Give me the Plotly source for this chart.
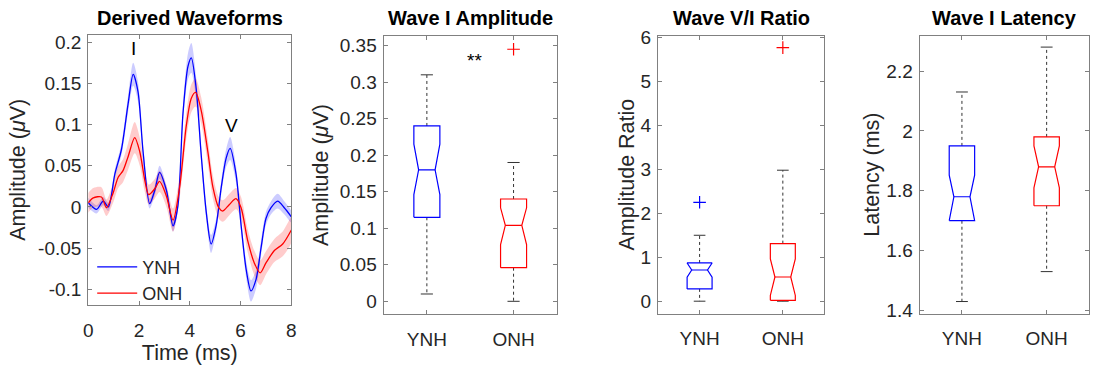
import plotly.graph_objects as go

# ---------------- data ----------------
groups = ["YNH", "ONH"]
group_colors = ["#0000ff", "#ff0000"]

# Derived waveforms (mean and SEM), time in ms
ynh_t = [0, 0.33, 0.59, 0.79, 1.05, 1.31, 1.57, 1.77, 1.96, 2.16, 2.42, 2.62, 2.81, 3.08, 3.34, 3.53,
         3.73, 3.93, 4.06, 4.25, 4.45, 4.65, 4.84, 5.04, 5.24, 5.43, 5.59, 5.82, 6.02, 6.22, 6.41, 6.61,
         6.81, 7.0, 7.2, 7.46, 7.72, 8.0]
ynh_mean = [0.005, -0.003, 0.007, 0.0, 0.04, 0.07, 0.125, 0.161, 0.14, 0.067, 0.004, 0.02, 0.042, 0.02,
            -0.023, 0.001, 0.113, 0.171, 0.181, 0.144, 0.063, -0.007, -0.045, -0.022, 0.024, 0.059, 0.071,
            0.04, -0.022, -0.076, -0.102, -0.088, -0.049, -0.014, -0.001, 0.007, -0.001, -0.012]
ynh_sem = [0.006, 0.005, 0.005, 0.005, 0.006, 0.007, 0.010, 0.014, 0.012, 0.008, 0.006, 0.006, 0.008, 0.006,
           0.007, 0.006, 0.010, 0.016, 0.018, 0.014, 0.009, 0.008, 0.011, 0.008, 0.008, 0.011, 0.014, 0.010,
           0.008, 0.010, 0.013, 0.011, 0.009, 0.008, 0.008, 0.009, 0.008, 0.007]

onh_t = [0, 0.2, 0.52, 0.72, 0.98, 1.18, 1.37, 1.57, 1.83, 2.03, 2.23, 2.38, 2.62, 2.81, 3.08, 3.34, 3.6,
         3.86, 4.06, 4.23, 4.45, 4.71, 4.91, 5.14, 5.3, 5.56, 5.82, 6.02, 6.28, 6.54, 6.77, 7.0, 7.33, 7.66, 8.0]
onh_mean = [0.005, 0.011, 0.012, -0.001, 0.017, 0.036, 0.044, 0.061, 0.084, 0.067, 0.032, 0.015, 0.022, 0.031,
            0.013, -0.016, 0.024, 0.098, 0.132, 0.139, 0.117, 0.067, 0.024, -0.001, -0.005, 0.003, 0.010,
            -0.001, -0.041, -0.068, -0.080, -0.068, -0.053, -0.045, -0.028]
onh_sem = [0.012, 0.012, 0.012, 0.010, 0.012, 0.013, 0.014, 0.016, 0.019, 0.017, 0.014, 0.012, 0.012, 0.013,
           0.013, 0.014, 0.014, 0.016, 0.017, 0.017, 0.016, 0.015, 0.014, 0.013, 0.013, 0.013, 0.013, 0.013,
           0.014, 0.015, 0.015, 0.014, 0.014, 0.015, 0.015]

wave_ticks = [-0.1, -0.05, 0, 0.05, 0.1, 0.15, 0.2]
wave_ticklabels = ["-0.1", "-0.05", "0", "0.05", "0.1", "0.15", "0.2"]
time_ticks = [0, 2, 4, 6, 8]

# Box-plot summary statistics [YNH, ONH]
amp_lo = [0.01, 0.0]
amp_q1 = [0.115, 0.046]
amp_med = [0.18, 0.104]
amp_q3 = [0.24, 0.14]
amp_hi = [0.31, 0.19]
amp_notch_lo = [0.146, 0.0775]
amp_notch_hi = [0.215, 0.128]
amp_outliers = [[], [0.345]]
amp_ticks = [0, 0.05, 0.1, 0.15, 0.2, 0.25, 0.3, 0.35]
amp_ticklabels = ["0", "0.05", "0.1", "0.15", "0.2", "0.25", "0.3", "0.35"]

ratio_lo = [0.0, 0.0]
ratio_q1 = [0.28, 0.02]
ratio_med = [0.71, 0.55]
ratio_q3 = [0.87, 1.31]
ratio_hi = [1.5, 2.98]
ratio_notch_lo = [0.545, 0.13]
ratio_notch_hi = [0.87, 0.96]
ratio_outliers = [[2.25], [5.77]]
ratio_ticks = [0, 1, 2, 3, 4, 5, 6]

lat_lo = [1.43, 1.53]
lat_q1 = [1.70, 1.75]
lat_med = [1.78, 1.88]
lat_q3 = [1.95, 1.98]
lat_hi = [2.13, 2.28]
lat_notch_lo = [1.70, 1.81]
lat_notch_hi = [1.852, 1.95]
lat_outliers = [[], []]
lat_ticks = [1.4, 1.6, 1.8, 2.0, 2.2]
lat_ticklabels = ["1.4", "1.6", "1.8", "2", "2.2"]

# ---------------- figure ----------------
W, H = 1095, 374
FONT = "Liberation Sans, Arial, Helvetica, sans-serif"
FRAME = "#808080"
TXT = "#262626"

fig = go.Figure()


def px_x(a, b):
    return [a / W, b / W]


def px_y(top, bottom):
    return [1 - bottom / H, 1 - top / H]


# --- panel 1: waveforms ---
for t, m, s, fill in [
    (ynh_t, ynh_mean, ynh_sem, "rgba(0,0,255,0.2)"),
    (onh_t, onh_mean, onh_sem, "rgba(255,0,0,0.2)"),
]:
    upper = [mi + si for mi, si in zip(m, s)]
    lower = [mi - si for mi, si in zip(m, s)]
    fig.add_trace(go.Scatter(
        x=list(t) + list(t)[::-1], y=upper + lower[::-1],
        fill="toself", fillcolor=fill, line=dict(width=0, shape="spline", smoothing=0.8),
        mode="lines", showlegend=False, hoverinfo="skip", xaxis="x", yaxis="y"))

for t, m, col, name in [(ynh_t, ynh_mean, "#0000ff", "YNH"), (onh_t, onh_mean, "#ff0000", "ONH")]:
    fig.add_trace(go.Scatter(
        x=t, y=m, mode="lines", name=name,
        line=dict(color=col, width=1.3, shape="spline", smoothing=0.8),
        xaxis="x", yaxis="y"))


# --- box panels ---
def add_boxes(ax, lo, q1, med, q3, hi, nlo, nhi, outl):
    xa, ya = "x" + ax, "y" + ax
    w, wn, wc = 0.15, 0.095, 0.07
    for i, g in enumerate(groups):
        c = i + 1
        col = group_colors[i]
        fig.add_trace(go.Scatter(
            x=[c, c, None, c, c], y=[q3[i], hi[i], None, q1[i], lo[i]],
            mode="lines", line=dict(color="#333333", width=1, dash="dot"),
            showlegend=False, hoverinfo="skip", xaxis=xa, yaxis=ya))
        fig.add_trace(go.Scatter(
            x=[c - wc, c + wc, None, c - wc, c + wc], y=[hi[i], hi[i], None, lo[i], lo[i]],
            mode="lines", line=dict(color="#333333", width=1),
            showlegend=False, hoverinfo="skip", xaxis=xa, yaxis=ya))
        bx = [c - w, c - w, c - wn, c - w, c - w, c + w, c + w, c + wn, c + w, c + w, c - w]
        by = [q1[i], nlo[i], med[i], nhi[i], q3[i], q3[i], nhi[i], med[i], nlo[i], q1[i], q1[i]]
        fig.add_trace(go.Scatter(
            x=bx, y=by, mode="lines", line=dict(color=col, width=1.2),
            showlegend=False, hoverinfo="skip", xaxis=xa, yaxis=ya))
        fig.add_trace(go.Scatter(
            x=[c - wn, c + wn], y=[med[i], med[i]], mode="lines", line=dict(color=col, width=1.2),
            showlegend=False, hoverinfo="skip", xaxis=xa, yaxis=ya))
        if outl[i]:
            fig.add_trace(go.Scatter(
                x=[c] * len(outl[i]), y=outl[i], mode="markers",
                marker=dict(symbol="cross-thin", size=9, line=dict(color=col, width=1.2)),
                showlegend=False, hoverinfo="skip", xaxis=xa, yaxis=ya))


add_boxes("2", amp_lo, amp_q1, amp_med, amp_q3, amp_hi, amp_notch_lo, amp_notch_hi, amp_outliers)
add_boxes("3", ratio_lo, ratio_q1, ratio_med, ratio_q3, ratio_hi, ratio_notch_lo, ratio_notch_hi, ratio_outliers)
add_boxes("4", lat_lo, lat_q1, lat_med, lat_q3, lat_hi, lat_notch_lo, lat_notch_hi, lat_outliers)

axis_common = dict(
    showline=True, linecolor=FRAME, linewidth=1, mirror="allticks",
    ticks="inside", ticklen=4, tickcolor=FRAME, showgrid=False, zeroline=False,
    tickfont=dict(family=FONT, size=19, color=TXT),
)
xaxis_common = dict(axis_common, ticklabelstandoff=8)
yaxis_common = dict(axis_common, ticklabelstandoff=2)
title_font = dict(family=FONT, size=21.5, color=TXT)

fig.update_layout(
    width=W, height=H, margin=dict(l=0, r=0, t=0, b=0),
    paper_bgcolor="white", plot_bgcolor="white",
    font=dict(family=FONT, size=18, color=TXT),
    showlegend=True,
    legend=dict(x=88 / W, y=1 - 251 / H, xanchor="left", yanchor="top",
                bgcolor="rgba(0,0,0,0)", font=dict(family=FONT, size=18, color=TXT),
                itemwidth=40, tracegroupgap=0),
    xaxis=dict(domain=px_x(84, 289), range=[0, 8], tickvals=time_ticks,
               title=dict(text="Time (ms)", font=title_font, standoff=1), anchor="y", **xaxis_common),
    yaxis=dict(domain=px_y(27, 310), range=[-0.119, 0.209], tickvals=wave_ticks, ticktext=wave_ticklabels,
               title=dict(text="Amplitude (<i>μ</i>V)", font=title_font, standoff=6), anchor="x", **yaxis_common),
    xaxis2=dict(domain=px_x(382, 557), range=[0.5, 2.5], tickvals=[1, 2], ticktext=groups, anchor="y2",
                **xaxis_common),
    yaxis2=dict(domain=px_y(28, 320), range=[-0.018, 0.3635], tickvals=amp_ticks, ticktext=amp_ticklabels,
                title=dict(text="Amplitude (<i>μ</i>V)", font=title_font, standoff=5), anchor="x2", **yaxis_common),
    xaxis3=dict(domain=px_x(659, 827), range=[0.5, 2.5], tickvals=[1, 2], ticktext=groups, anchor="y3",
                **xaxis_common),
    yaxis3=dict(domain=px_y(28, 319), range=[-0.28, 6.04], tickvals=ratio_ticks,
                title=dict(text="Amplitude Ratio", font=title_font, standoff=0), anchor="x3", **yaxis_common),
    xaxis4=dict(domain=px_x(923, 1094), range=[0.5, 2.5], tickvals=[1, 2], ticktext=groups, anchor="y4",
                **xaxis_common),
    yaxis4=dict(domain=px_y(28, 319), range=[1.39, 2.318], tickvals=lat_ticks, ticktext=lat_ticklabels,
                title=dict(text="Latency (ms)", font=title_font, standoff=0), anchor="x4", **yaxis_common),
)

titles = [("Derived Waveforms", 186.5), ("Wave I Amplitude", 469.5), ("Wave V/I Ratio", 743),
          ("Wave I Latency", 1008.5)]
for txt, cx in titles:
    fig.add_annotation(text="<b>" + txt + "</b>", x=cx / W, y=1 - 9 / H, xref="paper", yref="paper",
                       showarrow=False, xanchor="center", yanchor="middle",
                       font=dict(family=FONT, size=20, color="black"))

fig.add_annotation(text="I", x=1.78, y=0.192, xref="x", yref="y", showarrow=False,
                   font=dict(family=FONT, size=19, color="black"))
fig.add_annotation(text="V", x=5.63, y=0.099, xref="x", yref="y", showarrow=False,
                   font=dict(family=FONT, size=19, color="black"))
fig.add_annotation(text="**", x=1.55, y=0.329, xref="x2", yref="y2", showarrow=False,
                   font=dict(family=FONT, size=19, color="black"))

fig.write_html("out.html")
